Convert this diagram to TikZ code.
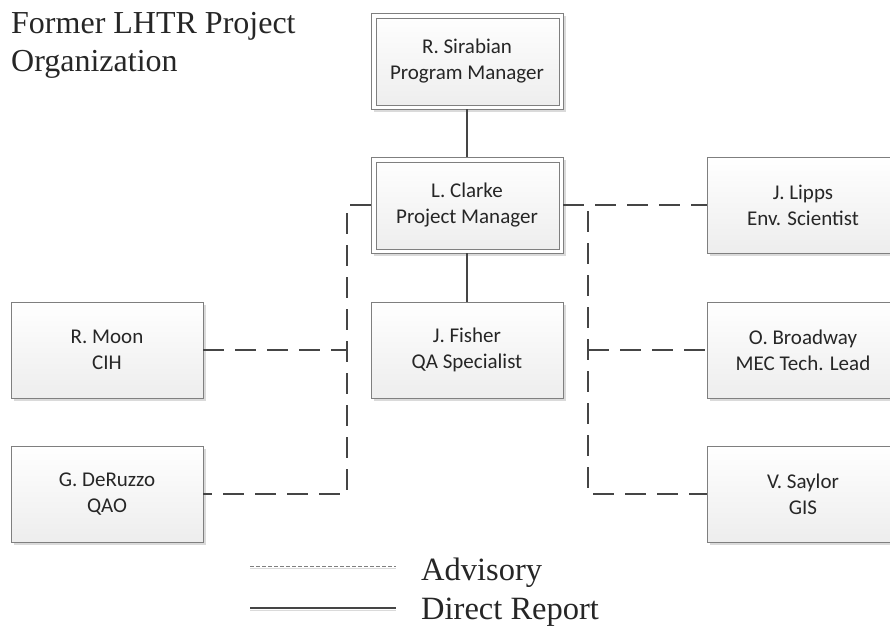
\documentclass[tikz,border=0pt]{standalone}
\usepackage{fontspec}
\setmainfont{Liberation Serif}
\newfontfamily\boxfont{Carlito}
\usetikzlibrary{shadows}
\definecolor{frameC}{HTML}{7F7F7F}
\definecolor{lineC}{HTML}{454545}
\definecolor{txtC}{HTML}{262626}
\definecolor{shadowC}{HTML}{DADADA}
\definecolor{botC}{HTML}{EDEDED}
\tikzset{
  orgbox/.style={draw=frameC, line width=0.9pt, top color=white, bottom color=botC,
    minimum width=192pt, minimum height=96pt, inner sep=0pt, align=center,
    text=txtC, font=\boxfont\fontsize{21}{26}\selectfont,
    drop shadow={shadow xshift=3pt, shadow yshift=-3pt, fill=shadowC, opacity=1}},
  dblbox/.style={draw=frameC, line width=0.9pt, fill=white,
    minimum width=192pt, minimum height=96pt, inner sep=0pt, align=center,
    text=txtC, font=\boxfont\fontsize{21}{26}\selectfont,
    drop shadow={shadow xshift=3pt, shadow yshift=-3pt, fill=shadowC, opacity=1},
    path picture={\draw[draw=frameC, line width=0.9pt, top color=white, bottom color=botC]
      ([shift={(5,5)}]path picture bounding box.north west) rectangle
      ([shift={(-4,-4)}]path picture bounding box.south east);}},
  advis/.style={draw=lineC, line width=2.6pt, dash pattern=on 21pt off 11pt},
  direct/.style={draw=lineC, line width=2pt},
  titletxt/.style={anchor=base west, inner sep=0pt, text=txtC, font=\fontsize{32}{38}\selectfont},
  legtxt/.style={anchor=base west, inner sep=0pt, text=txtC, font=\fontsize{32.5}{38}\selectfont},
}
\begin{document}
\begin{tikzpicture}[x=1pt, y=-1pt]
\useasboundingbox[fill=white] (0,0) rectangle (890,631);

\node[titletxt] (t1) at (11,34) {Former LHTR Project};
\node[titletxt] (t2) at (11,72) {Organization};

\node[dblbox] (sir) at (467,61) {R. Sirabian\\Program Manager};
\node[dblbox] (cla) at (467,205) {L. Clarke\\Project Manager};
\node[orgbox] (fis) at (467,350) {J. Fisher\\QA Specialist};
\node[orgbox] (moo) at (107,350) {R. Moon\\CIH};
\node[orgbox] (der) at (107,494) {G. DeRuzzo\\QAO};
\node[orgbox] (lip) at (803,205) {J. Lipps\\Env. Scientist};
\node[orgbox] (bro) at (803,350) {O. Broadway\\MEC Tech. Lead};
\node[orgbox] (say) at (803,494) {V. Saylor\\GIS};

\coordinate (lj1) at (347,205);
\coordinate (lj2) at (347,494);
\coordinate (lj3) at (347,350);
\coordinate (rj1) at (588,211);
\coordinate (rj2) at (588,494);
\coordinate (rj3) at (588,350);

\draw[direct] (sir.south) -- (cla.north);
\draw[direct] (cla.south) -- (fis.north);

\draw[advis] (cla.west) -- (lj1) -- (lj2) -- (der.east);
\draw[advis] (moo.east) -- (lj3);
\draw[advis] (cla.east) -- (lip.west);
\draw[advis] (rj1) -- (rj2) -- (say.west);
\draw[advis] (rj3) -- (bro.west);

% legend
\coordinate (la1) at (250,566);
\coordinate (la2) at (396,566);
\coordinate (ld1) at (250,608);
\coordinate (ld2) at (396,608);
\draw[shadowC, line width=1pt] ([yshift=-2pt]la1) -- ([yshift=-2pt]la2);
\draw[frameC, line width=1pt, dash pattern=on 4pt off 2pt] (la1) -- (la2);
\draw[shadowC, line width=1.2pt] ([yshift=-2.5pt]ld1) -- ([yshift=-2.5pt]ld2);
\draw[lineC, line width=1.4pt] (ld1) -- (ld2);
\node[legtxt] (adv) at (421,580) {Advisory};
\node[legtxt] (dir) at (421,619) {Direct Report};
\end{tikzpicture}
\end{document}
